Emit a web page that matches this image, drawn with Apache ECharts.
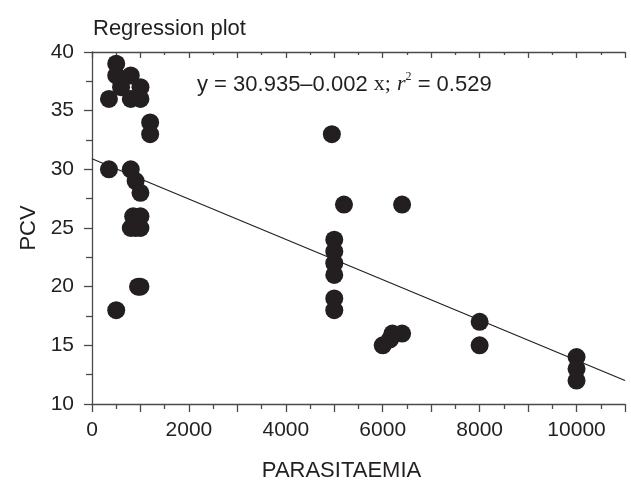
<!DOCTYPE html>
<html>
<head>
<meta charset="utf-8">
<script src="https://cdn.jsdelivr.net/npm/echarts@6/dist/echarts.min.js"></script>
<style>
  html, body { margin: 0; padding: 0; background: #fff; }
  #chart { width: 631px; height: 487px; }
</style>
</head>
<body>
<div id="chart"></div>
<script>
// parasitaemia (x) and PCV (y)
var parasitaemia = [500, 500, 800, 600, 1000, 350, 800, 1000, 1200, 1200,
  350, 800, 900, 1000, 850, 1000, 800, 900, 1000, 950, 1000, 500,
  4950, 5200, 6400, 5000, 5000, 5000, 5000, 5000, 5000,
  6000, 6150, 6200, 6400, 8000, 8000, 10000, 10000, 10000];
var pcv = [39, 38, 38, 37, 37, 36, 36, 36, 34, 33,
  30, 30, 29, 28, 26, 26, 25, 25, 25, 20, 20, 18,
  33, 27, 27, 24, 23, 22, 21, 19, 18,
  15, 15.5, 16, 16, 17, 15, 14, 13, 12];

// fitted line end points
var lineX = [0, 11000];
var lineY = [30.9, 12.0];

var xTicks = [0, 2000, 4000, 6000, 8000, 10000];

var sans = 'Arial, "Liberation Sans", Helvetica, sans-serif';
var serif = '"Times New Roman", "Liberation Serif", serif';
var ink = '#231f20';
var axisCol = '#4a4a4a';

var points = parasitaemia.map(function (v, i) { return [v, pcv[i]]; });
var fit = lineX.map(function (v, i) { return [v, lineY[i]]; });

var chart = echarts.init(document.getElementById('chart'));
chart.setOption({
  animation: false,
  backgroundColor: '#fff',
  title: {
    text: 'Regression plot',
    left: 88,
    top: 13,
    textStyle: { color: ink, fontSize: 22, fontWeight: 'normal', fontFamily: sans }
  },
  grid: { left: 92, right: 6, top: 52, bottom: 78 },
  xAxis: [{
    type: 'value',
    position: 'bottom',
    min: 0,
    max: 11000,
    interval: 1000,
    name: 'PARASITAEMIA',
    nameLocation: 'middle',
    nameGap: 56,
    nameTextStyle: { color: ink, fontSize: 22, fontFamily: sans, padding: [0, 34, 0, 0] },
    axisLine: { lineStyle: { color: axisCol, width: 1.3 } },
    axisTick: { length: 8, lineStyle: { color: axisCol, width: 1.3 } },
    minorTick: { show: true, splitNumber: 2, length: 5, lineStyle: { color: axisCol, width: 1.3 } },
    axisLabel: {
      margin: 16,
      color: ink,
      fontSize: 21,
      fontFamily: sans,
      formatter: function (v) { return xTicks.indexOf(v) >= 0 ? String(v) : ''; }
    },
    splitLine: { show: false }
  }, {
    type: 'value',
    position: 'top',
    min: 0,
    max: 11000,
    interval: 1000,
    axisLine: { lineStyle: { color: axisCol, width: 1.3 } },
    axisTick: { inside: true, length: 6, lineStyle: { color: axisCol, width: 1.3 } },
    minorTick: { show: true, splitNumber: 2, length: 3, lineStyle: { color: axisCol, width: 1.3 } },
    axisLabel: { show: false },
    splitLine: { show: false }
  }],
  yAxis: {
    type: 'value',
    min: 10,
    max: 40,
    interval: 5,
    name: 'PCV',
    nameLocation: 'middle',
    nameGap: 50,
    nameTextStyle: { color: ink, fontSize: 22, fontFamily: sans },
    axisLine: { lineStyle: { color: axisCol, width: 1.3 } },
    axisTick: { length: 8, lineStyle: { color: axisCol, width: 1.3 } },
    minorTick: { show: true, splitNumber: 2, length: 6, lineStyle: { color: axisCol, width: 1.3 } },
    axisLabel: { margin: 18, color: ink, fontSize: 21, fontFamily: sans },
    splitLine: { show: false }
  },
  graphic: [{
    type: 'text',
    left: 197,
    top: 71,
    style: {
      text: '{a|y = 30.935–0.002 }{b|x;}{a| }{i|r}{s|2}{a| = 0.529}',
      rich: {
        a: { fontSize: 22, fontFamily: sans, fill: ink },
        b: { fontSize: 22, fontFamily: serif, fill: ink },
        i: { fontSize: 22, fontFamily: serif, fontStyle: 'italic', fill: ink },
        s: { fontSize: 12, fontFamily: serif, fill: ink, padding: [0, 0, 15, 0] }
      }
    }
  }],
  series: [{
    type: 'line',
    data: fit,
    showSymbol: false,
    xAxisIndex: 0,
    lineStyle: { color: ink, width: 1.2 },
    z: 1
  }, {
    type: 'scatter',
    data: points,
    xAxisIndex: 0,
    symbol: 'circle',
    symbolSize: 18,
    itemStyle: { color: ink, opacity: 1 },
    z: 2
  }]
});
</script>
</body>
</html>
